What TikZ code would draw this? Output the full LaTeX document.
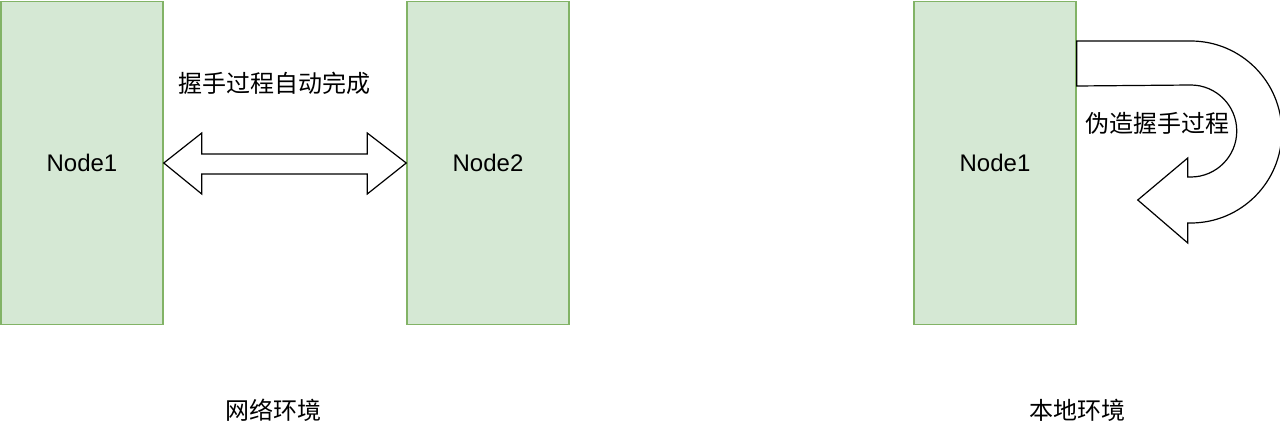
\documentclass[tikz,border=0pt]{standalone}
\usepackage{fontspec}
\setmainfont{Liberation Sans}
\newfontfamily\cjk{Noto Sans CJK SC}
\usepackage{tikz}
\usetikzlibrary{calc}
\definecolor{boxfill}{HTML}{D5E8D4}
\definecolor{boxline}{HTML}{82B366}

\begin{document}
\begin{tikzpicture}[x=1pt,y=-1pt,font=\fontsize{24}{28}\selectfont]
    \useasboundingbox (0,0) rectangle (1280,428);
    \begin{scope}[every node/.style={rectangle,draw=boxline,fill=boxfill,line width=1.5pt,
        minimum width=162pt,minimum height=323pt,inner sep=0pt}]
    \node (node1) at (82,163) {Node1};
    \node (node2) at (488,163) {Node2};
    \node (local) at (995,163) {Node1};
    \end{scope}
    \begin{scope}[every path/.style={draw=black,fill=white,line width=1.2pt,line join=miter}]
    % double arrow between the two nodes
    \path (node1.east) -- ++(38,-30) -- ++(0,21) -- ($(node2.west)+(-39,-9)$) -- ++(0,-21)
        -- (node2.west) -- ++(-39,31) -- ++(0,-20) -- ($(node1.east)+(38,11)$) -- ++(0,20) -- cycle;
    % u-turn arrow back to the same node
    \path ($(local.east)+(0,-122)$) -- ++(114,0) arc[start angle=-90,end angle=90,radius=91]
        -- ++(-3,0) -- ++(0,20) -- ++(-50,-43) -- ++(50,-42) -- ++(0,19) -- ++(3,0)
        arc[start angle=90,end angle=-90,radius=46] -- ($(local.east)+(0,-77)$) -- cycle;
    \end{scope}
    \begin{scope}[every node/.style={font=\fontsize{24}{28}\selectfont\cjk}]
    \node (auto) at (274,83) {握手过程自动完成};
    \node (fake) at (1157,123) {伪造握手过程};
    \node (net) at (273,410) {网络环境};
    \node (here) at (1077,410) {本地环境};
    \end{scope}
\end{tikzpicture}
\end{document}
